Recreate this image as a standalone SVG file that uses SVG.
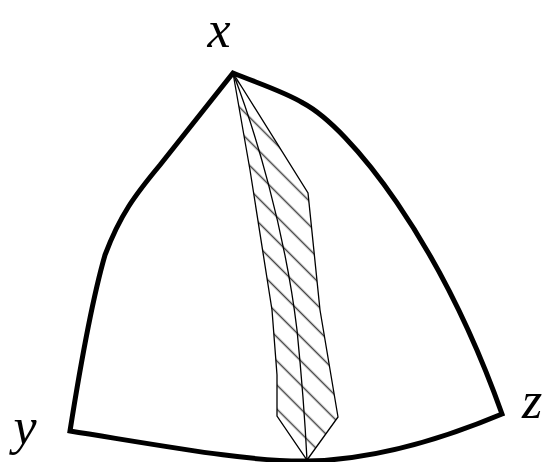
<svg xmlns="http://www.w3.org/2000/svg" width="544" height="462" viewBox="0 0 544 462">
  <style>
    .edge { fill: none; stroke: #000; stroke-width: 5; stroke-linejoin: miter; stroke-linecap: butt; }
    .thin { fill: none; stroke: #000; stroke-width: 1.3; stroke-linejoin: miter; }
    .lbl { font-family: "Liberation Serif", "Times New Roman", serif; font-style: italic; font-size: 52px; fill: #000; text-anchor: middle; }
  </style>
  <defs>
    <pattern id="hatch" width="17" height="17" patternUnits="userSpaceOnUse" patternTransform="rotate(45)">
      <line x1="0" y1="8.5" x2="17" y2="8.5" stroke="#444" stroke-width="1.5"/>
    </pattern>
  </defs>
  <rect width="544" height="462" fill="#fff"/>
  <g id="edges">
    <path class="edge" d="M70,431 C82,355 92,300 105,255 C120,215 135,195 160,165 L233,73 C260,84 285,92 303,103 C350,128 440,240 502,414 C440,440 370,460 307,461 C250,462 170,447 70,431 Z"/>
  </g>
  <g id="strip">
    <path d="M233,73 L250,170 L272,310 L277,375 L277,416 L307,460 L338,417 L320,310 L308,193 Z" fill="url(#hatch)"/>
    <polyline class="thin" points="233,73 250,170 272,310 277,375 277,416 307,460 338,417 320,310 308,193 233,73"/>
    <path class="thin" d="M233,73 C255,130 285,230 297,330 C302,380 305,420 307,460"/>
  </g>
  <g id="labels">
    <text id="label-x" class="lbl" x="219" y="46.5">x</text>
    <text id="label-y" class="lbl" x="25" y="444">y</text>
    <text id="label-z" class="lbl" x="532" y="418">z</text>
  </g>
</svg>
